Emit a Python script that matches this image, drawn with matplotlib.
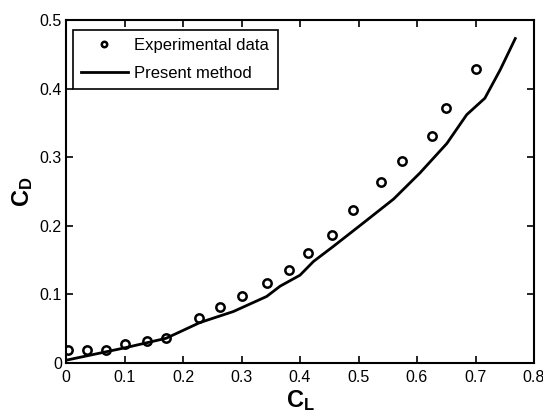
import matplotlib
matplotlib.use('Agg')
import matplotlib.pyplot as plt

plt.rcParams['font.family'] = ['Liberation Sans', 'DejaVu Sans']
plt.rcParams['mathtext.fontset'] = 'custom'
plt.rcParams['mathtext.rm'] = 'Liberation Sans'
plt.rcParams['mathtext.bf'] = 'Liberation Sans:bold'

exp_cl = [0.004, 0.036, 0.068, 0.101, 0.138, 0.171, 0.227, 0.263, 0.301, 0.343,
          0.381, 0.413, 0.455, 0.491, 0.538, 0.575, 0.626, 0.649, 0.701]
exp_cd = [0.019, 0.019, 0.019, 0.027, 0.032, 0.037, 0.065, 0.082, 0.098, 0.116,
          0.136, 0.161, 0.187, 0.223, 0.264, 0.294, 0.331, 0.371, 0.429]

# present method curve
calc_cl = [0.0, 0.05, 0.1, 0.171, 0.229, 0.286, 0.343, 0.366, 0.4, 0.423, 0.457,
           0.508, 0.56, 0.605, 0.651, 0.685, 0.716, 0.742, 0.768]
calc_cd = [0.004, 0.013, 0.022, 0.036, 0.059, 0.075, 0.097, 0.112, 0.128, 0.148,
           0.170, 0.204, 0.239, 0.277, 0.320, 0.362, 0.386, 0.427, 0.473]

xticks = [0, 0.1, 0.2, 0.3, 0.4, 0.5, 0.6, 0.7, 0.8]
yticks = [0, 0.1, 0.2, 0.3, 0.4, 0.5]

fig = plt.figure(figsize=(5.43, 4.19), dpi=100)
ax = fig.add_axes([66 / 543, 56 / 419, 468 / 543, 343 / 419])

ax.plot(exp_cl, exp_cd, 'o', mfc='none', mec='black', mew=1.8, ms=6,
        label='Experimental data')
ax.plot(calc_cl, calc_cd, '-', color='black', lw=2, label='Present method')

ax.set_xlim(0, 0.8)
ax.set_ylim(0, 0.5)
ax.set_xticks(xticks)
ax.set_yticks(yticks)
ax.set_xticklabels([f'{t:g}' for t in xticks])
ax.set_yticklabels([f'{t:g}' for t in yticks])
ax.tick_params(direction='in', top=True, right=True, length=5, width=1.2,
               labelsize=11.5)
ax.tick_params(axis='x', pad=5)
ax.tick_params(axis='y', pad=3)
for s in ax.spines.values():
    s.set_linewidth(1.5)

ax.set_xlabel(r'$\mathbf{C_L}$', fontsize=17, labelpad=2)
ax.set_ylabel(r'$\mathbf{C_D}$', fontsize=17, labelpad=3)

leg = ax.legend(loc='upper left', bbox_to_anchor=(0.0143, 0.971), fontsize=12,
                frameon=True, fancybox=False, edgecolor='black', framealpha=1,
                markerscale=0.65, handlelength=2.8, borderaxespad=0,
                borderpad=0.5, labelspacing=0.75, handletextpad=0.4)
leg.get_frame().set_linewidth(1.2)

fig.savefig('out.png', dpi=100)
